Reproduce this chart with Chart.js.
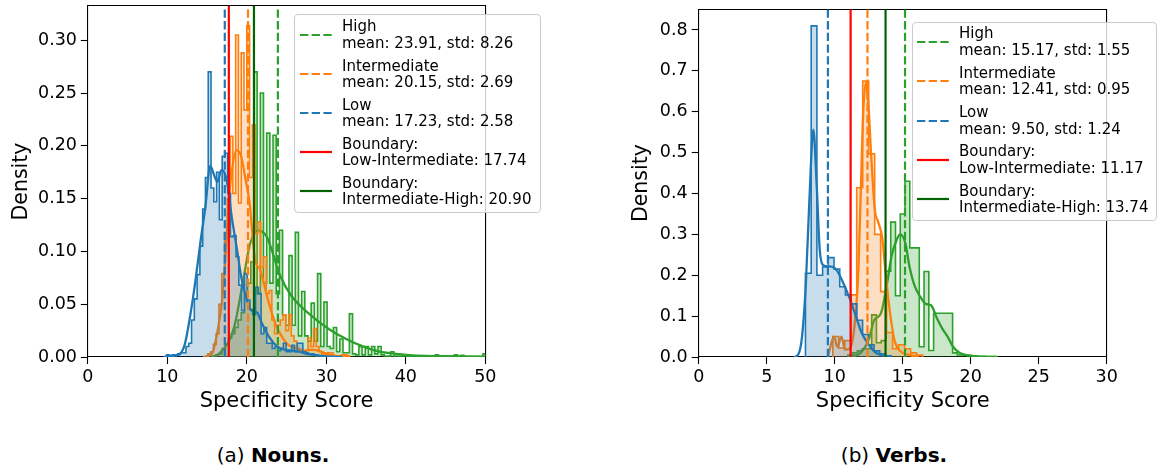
<!DOCTYPE html>
<html>
<head>
<meta charset="utf-8">
<script src="https://cdn.jsdelivr.net/npm/chart.js@4.4.1/dist/chart.umd.min.js"></script>
<style>
  html, body { margin: 0; padding: 0; background: #fff; }
  body { width: 1158px; height: 468px; overflow: hidden; position: relative; font-family: 'DejaVu Sans', sans-serif; }
  .cw { position: absolute; top: 0; height: 420px; }
  #w1 { left: 0; width: 560px; }
  #w2 { left: 580px; width: 578px; }
  .legend { position: absolute; box-sizing: border-box; border: 1px solid #cccccc; border-radius: 4px; background: rgba(255,255,255,0.8); }
  .entry { position: absolute; left: 0; height: 34px; width: 100%; }
  .entry svg { position: absolute; }
  .entry .t { position: absolute; font-size: 15px; line-height: 16.6px; white-space: pre; color: #000; }
  .caption { position: absolute; top: 442px; width: 400px; text-align: center; font-size: 20px; line-height: 26px; color: #000; white-space: nowrap; }
</style>
</head>
<body>
<div class="cw" id="w1"><canvas id="c1" width="560" height="420"></canvas></div>
<div class="cw" id="w2"><canvas id="c2" width="578" height="420"></canvas></div>
<div class="legend" id="lg1" style="left:294px;top:14px;width:247px;height:199px;"></div>
<div class="legend" id="lg2" style="left:912px;top:22px;width:245px;height:199px;"></div>
<div class="caption" style="left:73px;">(a) <b>Nouns.</b></div>
<div class="caption" style="left:694px;">(b) <b>Verbs.</b></div>
<script>
// ---------------- DATA ----------------
const groupNames = ['High', 'Intermediate', 'Low'];
const boundaryNames = ['Low-Intermediate', 'Intermediate-High'];

// Nouns
const xTicksNouns = [0, 10, 20, 30, 40, 50];
const yTicksNouns = [0, 0.05, 0.10, 0.15, 0.20, 0.25, 0.30];
const nounMeans = [23.91, 20.15, 17.23];
const nounStds = [8.26, 2.69, 2.58];
const nounBoundaries = [17.74, 20.90];

const nounLowStart = 9.9, nounLowWidth = 0.35;
const nounLowHist = [0.002,0.001,0.002,0.002,0.003,0.004,0.004,0.010,0.013,0.035,0.055,0.078,0.105,0.14,0.17,0.27,
  0.16,0.147,0.175,0.13,0.19,0.193,0.155,0.114,0.115,0.095,0.068,0.044,0.079,0.054,0.045,0.04,0.066,0.06,0.022,0.028,
  0.013,0.013,0.008,0.01,0.006,0.008,0.013,0.005,0.005,0.011,0.005,0.013,0.013,0.005,0.004,0.003,0.003,0.002,0.001,0.001];
const nounMidStart = 15.1, nounMidWidth = 0.35;
const nounMidHist = [0.003,0.005,0.012,0.022,0.05,0.079,0.117,0.15,0.209,0.155,0.305,0.146,0.288,0.234,0.314,0.17,
  0.22,0.117,0.128,0.085,0.095,0.06,0.063,0.035,0.022,0.03,0.035,0.04,0.025,0.04,0.02,0.015,0.008,0.006,0.005,0.006,
  0.018,0.01,0.027,0.01,0.005,0.003,0.002,0.004,0.004,0.001,0.001,0.001,0.002,0.002,0.001];
const nounHighStart = 15.7, nounHighWidth = 0.4;
const nounHighHist = [0.001,0.002,0.003,0.008,0.012,0.018,0.022,0.028,0.035,0.042,0.06,0.07,0.09,0.27,0.06,0.25,
  0.07,0.212,0.07,0.21,0.06,0.12,0.04,0.03,0.096,0.03,0.118,0.02,0.062,0.02,0.015,0.051,0.015,0.079,0.01,0.052,
  0.01,0.008,0.028,0.005,0.017,0.004,0.004,0.041,0.003,0.002,0.01,0.002,0.01,0.002,0.01,0.003,0.01,0.002,0.001,0.001,
  0.005,0.001,0.001,0.001,0.001,0.0005,0.0005,0.001,0.0005,0.0005,0.0005,0.0005,0.0005,0.0005,0.002,0.0005,0.0005,
  0.0005,0.0005,0.0005,0.002,0.0005,0.0015,0.0005,0.0005,0.0005,0.0005,0.0005,0.0005,0.003];

const nounLowKdeX = [9.5,10.5,11.4,12.2,12.9,13.5,14.1,14.8,15.4,15.9,16.3,16.8,17.1,17.6,18.1,18.7,19.3,20.0,20.6,21.3,21.9,22.8,23.8,24.8,25.8,26.6,27.5,28.5,30,32];
const nounLowKdeY = [0,0.001,0.002,0.012,0.04,0.07,0.105,0.143,0.181,0.172,0.166,0.177,0.176,0.162,0.133,0.105,0.076,0.054,0.044,0.042,0.032,0.019,0.01,0.007,0.006,0.005,0.003,0.002,0.0005,0];
const nounMidKdeX = [14.5,15.6,16.4,16.9,17.3,17.7,18.1,18.7,19.3,19.8,20.4,20.8,21.1,21.6,22.1,22.6,23.3,23.8,24.7,25.3,26.4,27.2,28.2,29.0,30.5,32.6];
const nounMidKdeY = [0,0.003,0.028,0.054,0.093,0.143,0.175,0.196,0.19,0.17,0.143,0.108,0.09,0.084,0.071,0.056,0.038,0.028,0.016,0.011,0.008,0.006,0.007,0.006,0.002,0];
const nounHighKdeX = [15.5,16.5,18.4,19.6,20.4,21.4,22.5,24.2,25.6,28.3,30.4,32.5,34.6,36.7,38.8,40.9,44,47,50];
const nounHighKdeY = [0,0.003,0.028,0.075,0.107,0.12,0.114,0.077,0.058,0.038,0.026,0.017,0.01,0.005,0.003,0.0015,0.0008,0.0005,0.0004];

// Verbs
const xTicksVerbs = [0, 5, 10, 15, 20, 25, 30];
const yTicksVerbs = [0, 0.1, 0.2, 0.3, 0.4, 0.5, 0.6, 0.7, 0.8];
const verbMeans = [15.17, 12.41, 9.50];
const verbStds = [1.55, 0.95, 1.24];
const verbBoundaries = [11.17, 13.74];

const verbLowStart = 7.85, verbLowWidth = 0.42;
const verbLowHist = [0.205,0.81,0.2,0.22,0.243,0.215,0.172,0.152,0.13,0.09,0.055,0.03,0.015,0.008,0.003];
const verbMidStart = 9.86, verbMidWidth = 0.44;
const verbMidHist = [0.05,0.022,0.04,0.152,0.414,0.675,0.497,0.30,0.16,0.06,0.02,0.03,0.02,0.01,0.005];
const verbHighStart = 10.97, verbHighWidth = 0.35;
const verbHighHist = [0.005,0.01,0.015,0.02,0.02,0.103,0.035,0.04,0.21,0.33,0.15,0.35,0.43,0.267,0.267,0.025,0.209,
  0.016,0.107,0.107,0.107,0.107,0.01,0.005,0.005,0.004,0.003,0.002,0.002,0.001,0.001];

const verbLowKdeX = [7.0,7.3,7.6,7.88,8.14,8.43,8.68,8.9,9.14,9.4,9.8,10.2,10.5,10.9,11.2,11.6,12.0,12.4,12.9,13.4,14.1];
const verbLowKdeY = [0,0.005,0.05,0.18,0.385,0.556,0.417,0.262,0.225,0.222,0.221,0.21,0.19,0.16,0.135,0.095,0.058,0.035,0.014,0.005,0];
const verbMidKdeX = [9.5,9.95,10.2,10.5,10.75,11.1,11.5,11.75,11.9,12.1,12.3,12.5,12.7,12.95,13.2,13.5,13.7,13.9,14.1,14.4,14.8,15.5,16.2];
const verbMidKdeY = [0,0.05,0.025,0.05,0.018,0.02,0.09,0.22,0.385,0.6,0.672,0.605,0.482,0.36,0.33,0.29,0.22,0.155,0.1,0.04,0.015,0.005,0];
const verbHighKdeX = [11.0,11.9,12.5,12.9,13.4,13.8,14.2,14.6,14.8,15.2,15.5,15.9,16.3,16.7,17.1,17.5,17.9,18.3,18.7,19.2,19.8,20.6,22];
const verbHighKdeY = [0,0.01,0.043,0.09,0.107,0.17,0.25,0.29,0.3,0.278,0.221,0.172,0.147,0.13,0.126,0.096,0.07,0.05,0.025,0.01,0.004,0.001,0];

// ---------------- STYLE ----------------
const FONT = "'DejaVu Sans', sans-serif";
const colors = { High: '#2ca02c', Intermediate: '#ff7f0e', Low: '#1f77b4' };
const fills = { High: 'rgba(44,160,44,0.25)', Intermediate: 'rgba(255,127,14,0.25)', Low: 'rgba(31,119,180,0.25)' };
const boundaryColors = ['#ff0000', '#006400'];
const DASH = [8.3, 3.4];

function histPoints(start, width, h) {
  const pts = [{ x: start, y: 0 }];
  h.forEach((v, i) => pts.push({ x: start + i * width, y: v }));
  pts.push({ x: start + h.length * width, y: 0 });
  return pts;
}
function zipXY(xs, ys) { return xs.map((x, i) => ({ x: x, y: ys[i] })); }

function buildDatasets(d, yMax) {
  const ds = [];
  // vertical mean lines
  groupNames.forEach((g, i) => {
    ds.push({ data: [{ x: d.means[i], y: 0 }, { x: d.means[i], y: yMax }], borderColor: colors[g], borderWidth: 2.2,
      borderDash: DASH, pointRadius: 0, fill: false, order: 1 });
  });
  d.boundaries.forEach((b, i) => {
    ds.push({ data: [{ x: b, y: 0 }, { x: b, y: yMax }], borderColor: boundaryColors[i], borderWidth: 2.2,
      pointRadius: 0, fill: false, order: 0 });
  });
  // histograms + kde ; Low drawn on top
  const ord = { Low: 2, Intermediate: 4, High: 6 };
  groupNames.forEach((g) => {
    ds.push({ data: zipXY(d.kde[g][0], d.kde[g][1]), borderColor: colors[g], borderWidth: 2.3, pointRadius: 0,
      fill: false, cubicInterpolationMode: 'monotone', tension: 0.4, order: ord[g] });
    ds.push({ data: histPoints(d.hist[g][0], d.hist[g][1], d.hist[g][2]), borderColor: colors[g], borderWidth: 1.6,
      backgroundColor: fills[g], fill: 'origin', stepped: 'before', pointRadius: 0, order: ord[g] + 1 });
  });
  return ds;
}

function makeChart(canvasId, d, geo) {
  const tickFont = { family: FONT, size: 17.5 };
  const titleFont = { family: FONT, size: 21 };
  return new Chart(document.getElementById(canvasId), {
    type: 'line',
    data: { datasets: buildDatasets(d, geo.yMax) },
    options: {
      responsive: false, animation: false, events: [],
      layout: { padding: { left: 0, right: geo.padRight, top: geo.padTop, bottom: 0 } },
      plugins: { legend: { display: false }, tooltip: { enabled: false } },
      scales: {
        x: {
          type: 'linear', position: 'bottom', min: 0, max: geo.xMax,
          afterBuildTicks: (s) => { s.ticks = d.xTicks.map(v => ({ value: v })); },
          ticks: { font: tickFont, color: '#000', padding: 3, maxRotation: 0, autoSkip: false, callback: (v) => String(v) },
          grid: { display: true, drawOnChartArea: false, drawTicks: true, tickLength: 7, tickWidth: 1.1, color: '#000' },
          border: { display: true, color: '#000', width: 1.1 },
          title: { display: true, text: 'Specificity Score', font: titleFont, color: '#000', padding: { top: 0, bottom: 5.7 } },
          afterFit: (s) => { s.height = 63; s.paddingLeft = 0; s.paddingRight = 0; }
        },
        y: {
          type: 'linear', position: 'left', min: 0, max: geo.yMax,
          afterBuildTicks: (s) => { s.ticks = d.yTicks.map(v => ({ value: v })); },
          ticks: { font: tickFont, color: '#000', padding: geo.yPad, autoSkip: false, callback: (v) => v.toFixed(d.yDec) },
          grid: { display: true, drawOnChartArea: false, drawTicks: true, tickLength: 7, tickWidth: 1.1, color: '#000' },
          border: { display: true, color: '#000', width: 1.1 },
          title: { display: true, text: 'Density', font: { family: FONT, size: 20.5 }, color: '#000', padding: { top: geo.yTitlePad, bottom: 0 } },
          afterFit: (s) => { s.width = geo.yWidth; s.paddingTop = 0; s.paddingBottom = 0; }
        },
        x2: {
          type: 'linear', position: 'top', min: 0, max: geo.xMax, ticks: { display: false }, grid: { display: false },
          border: { display: true, color: '#000', width: 1.1 },
          afterFit: (s) => { s.height = 0; s.paddingLeft = 0; s.paddingRight = 0; }
        },
        y2: {
          type: 'linear', position: 'right', min: 0, max: geo.yMax, ticks: { display: false }, grid: { display: false },
          border: { display: true, color: '#000', width: 1.1 },
          afterFit: (s) => { s.width = 0; s.paddingTop = 0; s.paddingBottom = 0; }
        }
      }
    }
  });
}

const nounsData = {
  xTicks: xTicksNouns, yTicks: yTicksNouns, yDec: 2, means: nounMeans, boundaries: nounBoundaries,
  hist: { Low: [nounLowStart, nounLowWidth, nounLowHist], Intermediate: [nounMidStart, nounMidWidth, nounMidHist], High: [nounHighStart, nounHighWidth, nounHighHist] },
  kde: { Low: [nounLowKdeX, nounLowKdeY], Intermediate: [nounMidKdeX, nounMidKdeY], High: [nounHighKdeX, nounHighKdeY] }
};
const verbsData = {
  xTicks: xTicksVerbs, yTicks: yTicksVerbs, yDec: 1, means: verbMeans, boundaries: verbBoundaries,
  hist: { Low: [verbLowStart, verbLowWidth, verbLowHist], Intermediate: [verbMidStart, verbMidWidth, verbMidHist], High: [verbHighStart, verbHighWidth, verbHighHist] },
  kde: { Low: [verbLowKdeX, verbLowKdeY], Intermediate: [verbMidKdeX, verbMidKdeY], High: [verbHighKdeX, verbHighKdeY] }
};

makeChart('c1', nounsData, { xMax: 50, yMax: 0.3324, padRight: 560 - 485.3, padTop: 6, yWidth: 87.8, yPad: 3.8, yTitlePad: 9.7 });
makeChart('c2', verbsData, { xMax: 30, yMax: 0.8506, padRight: 578 - 526.7, padTop: 9.3, yWidth: 118.7, yPad: 4, yTitlePad: 49.4 });

// ---------------- LEGENDS (HTML) ----------------
function buildLegend(id, means, stds, bounds, geo) {
  const box = document.getElementById(id);
  const items = [];
  groupNames.forEach((g, i) => items.push({ color: colors[g], dash: true,
    text: g + '\nmean: ' + means[i].toFixed(2) + ', std: ' + stds[i].toFixed(2) }));
  bounds.forEach((b, i) => items.push({ color: boundaryColors[i], dash: false,
    text: 'Boundary:\n' + boundaryNames[i] + ': ' + b.toFixed(2) }));
  items.forEach((it, i) => {
    const e = document.createElement('div');
    e.className = 'entry';
    e.style.top = (geo.top0 + i * geo.step) + 'px';
    const svgNS = 'http://www.w3.org/2000/svg';
    const svg = document.createElementNS(svgNS, 'svg');
    svg.setAttribute('width', '33'); svg.setAttribute('height', '6');
    svg.style.left = geo.lineX + 'px'; svg.style.top = '13.6px';
    const ln = document.createElementNS(svgNS, 'line');
    ln.setAttribute('x1', '0'); ln.setAttribute('x2', '32'); ln.setAttribute('y1', '3'); ln.setAttribute('y2', '3');
    ln.setAttribute('stroke', it.color); ln.setAttribute('stroke-width', '2.2');
    if (it.dash) ln.setAttribute('stroke-dasharray', DASH.join(' '));
    svg.appendChild(ln);
    e.appendChild(svg);
    const t = document.createElement('div');
    t.className = 't'; t.style.left = geo.textX + 'px'; t.style.top = '0px';
    t.textContent = it.text;
    e.appendChild(t);
    box.appendChild(e);
  });
}
buildLegend('lg1', nounMeans, nounStds, nounBoundaries, { top0: 3.4, step: 39.1, lineX: 5, textX: 47 });
buildLegend('lg2', verbMeans, verbStds, verbBoundaries, { top0: 2.3, step: 39.35, lineX: 3.7, textX: 46 });
</script>
</body>
</html>
